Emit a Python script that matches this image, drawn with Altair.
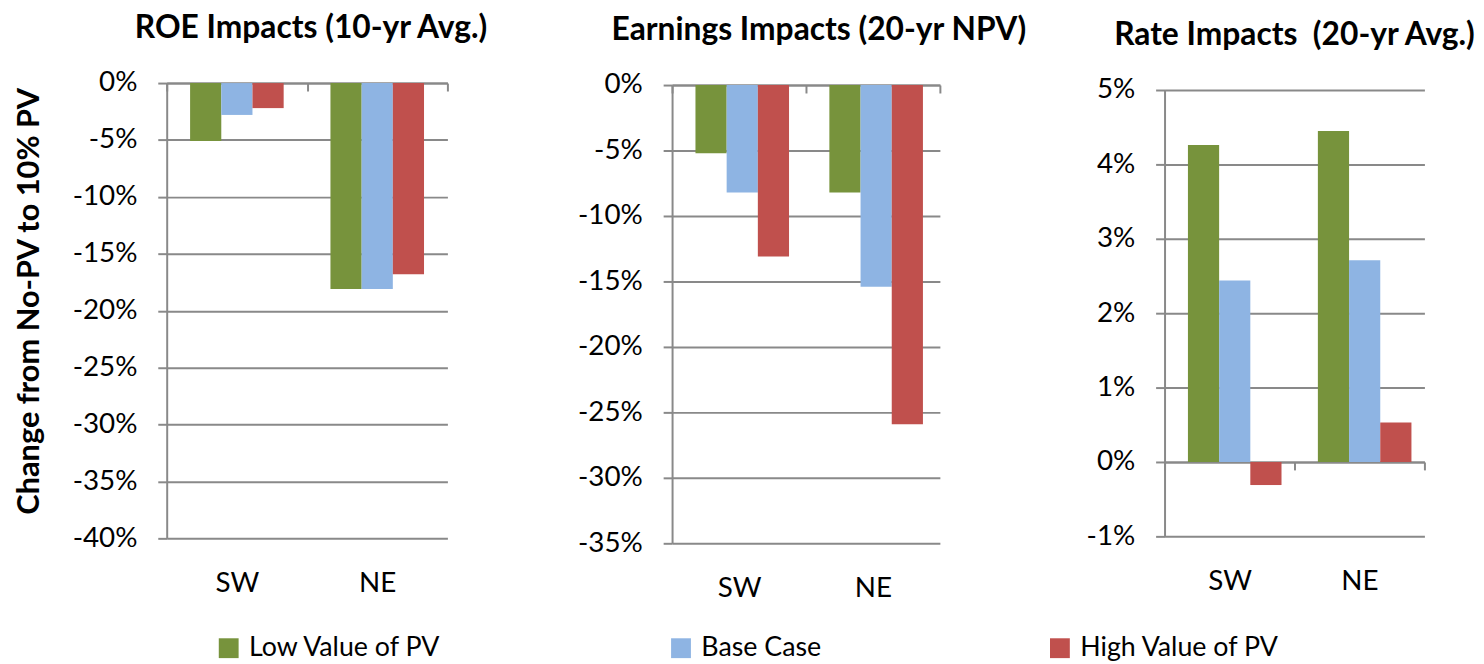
import altair as alt
import pandas as pd

regions = ["SW", "NE"]
scenarios = ["Low Value of PV", "Base Case", "High Value of PV"]
colors = ["#77933C", "#8EB4E3", "#C0504D"]

roe_low = [-5.1, -18.1]
roe_base = [-2.8, -18.1]
roe_high = [-2.2, -16.8]

earn_low = [-5.2, -8.2]
earn_base = [-8.2, -15.4]
earn_high = [-13.1, -25.9]

rate_low = [4.26, 4.45]
rate_base = [2.44, 2.71]
rate_high = [-0.31, 0.53]

titles = ["ROE Impacts (10-yr Avg.)", "Earnings Impacts (20-yr NPV)", "Rate Impacts\u00a0 (20-yr Avg.)"]
y_title = "Change from No-PV to 10% PV"

GRID = "#898989"
FONT = "Lato"
TICK_FS = 28
TITLE_FS = 32


def frame(low, base, high):
    rows = []
    for s, vals in zip(scenarios, [low, base, high]):
        for r, v in zip(regions, vals):
            rows.append({"region": r, "scenario": s, "value": v})
    return pd.DataFrame(rows)


def panel(df, title, domain, step, plot_h, top, label_pad, title_dx, width, ytitle=None):
    height = plot_h + top
    zero_px = top + plot_h * domain[1] / (domain[1] - domain[0])
    ticks = list(range(domain[0], domain[1] + step, step))
    ykw = dict(
        values=ticks, labelExpr="datum.value + '%'", grid=True, gridColor=GRID, gridWidth=2,
        domainColor=GRID, domainWidth=2, tickColor=GRID, tickWidth=2, tickSize=9,
        labelPadding=21, labelFontSize=TICK_FS, labelFont=FONT, labelColor="black",
    )
    if ytitle:
        ykw.update(title=ytitle, titleFont=FONT, titleFontSize=31, titleFontWeight="bold",
                   titleColor="black", titlePadding=27, titleY=top + plot_h / 2 - 10)
    else:
        ykw.update(title=None)
    yscale = dict(domain=domain, nice=False)
    if top:
        yscale.update(rangeMax=top)
    xaxis = alt.Axis(
        orient="bottom", offset=-(height - zero_px), tickBand="extent",
        domainColor=GRID, domainWidth=2, tickColor=GRID, tickWidth=2, tickSize=8,
        labelPadding=label_pad, labelAngle=0, labelFontSize=TICK_FS, labelFont=FONT,
        labelColor="black", title=None, grid=False,
    )
    return alt.Chart(df).mark_bar().encode(
        x=alt.X("region:N", sort=regions, scale=alt.Scale(paddingInner=0, paddingOuter=0), axis=xaxis),
        xOffset=alt.XOffset("scenario:N", sort=scenarios,
                            scale=alt.Scale(paddingInner=0, paddingOuter=0.75)),
        y=alt.Y("value:Q", scale=alt.Scale(**yscale), axis=alt.Axis(**ykw)),
        color=alt.Color(
            "scenario:N", sort=scenarios,
            scale=alt.Scale(domain=scenarios, range=colors),
            legend=alt.Legend(
                orient="none", legendX=49, legendY=556, direction="horizontal", title=None,
                symbolType="square", symbolSize=400, symbolStrokeWidth=0,
                labelFontSize=27, labelFont=FONT, labelColor="black", labelLimit=500,
                columnPadding=227, labelOffset=7,
            ),
        ),
    ).properties(
        width=width, height=height,
        title=alt.TitleParams(text=title, font=FONT, fontSize=TITLE_FS, fontWeight="bold",
                              color="black", anchor="middle", frame="group", dx=title_dx,
                              offset=24),
    )


p1 = panel(frame(roe_low, roe_base, roe_high), titles[0], [-40, 0], 5, 459, 0, 483, 4, 283, y_title)
p2 = panel(frame(earn_low, earn_base, earn_high), titles[1], [-35, 0], 5, 462, 2, 486, 13, 270)
p3 = panel(frame(rate_low, rate_base, rate_high), titles[2], [-1, 5], 1, 450, 7, 99, 0, 262)

chart = alt.hconcat(p1, p2, p3, spacing=226.5, bounds="flush").configure_view(
    stroke=None
).properties(padding={"left": 5, "top": 2, "right": 0, "bottom": 0})

chart.save("out.html", embed_options={"renderer": "svg", "actions": False})
